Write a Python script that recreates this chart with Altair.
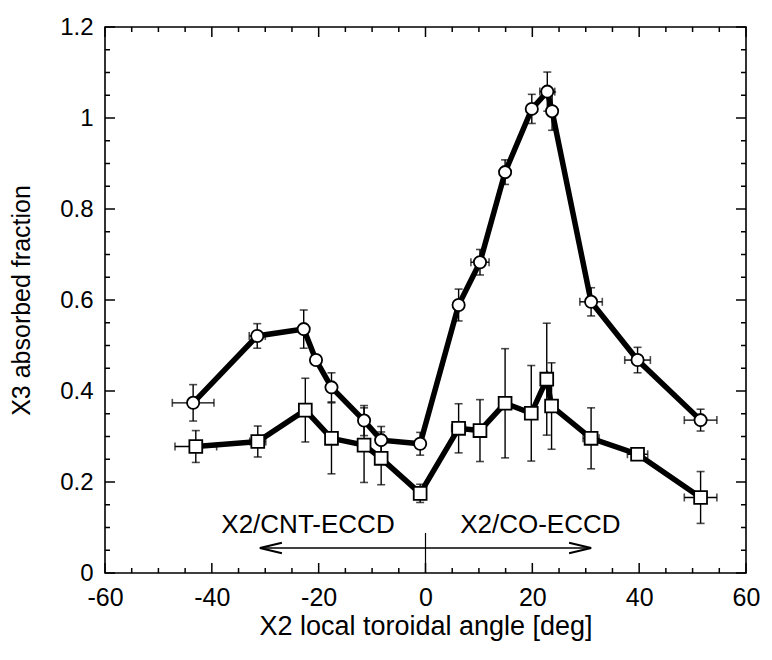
import altair as alt
import pandas as pd

# ---- data ----
circ_x = [-43.5, -31.5, -22.8, -20.5, -17.6, -11.5, -8.3, -1.0, 6.2, 10.2, 14.9, 19.9, 22.8, 23.7, 31.0, 39.7, 51.5]
circ_y = [0.374, 0.521, 0.536, 0.468, 0.408, 0.335, 0.292, 0.284, 0.589, 0.683, 0.881, 1.020, 1.058, 1.015, 0.596, 0.468, 0.336]
circ_xerr = [3.9, 1.5, 0, 0, 0, 0, 0, 0, 0, 1.7, 0, 0, 1.4, 0, 2.1, 2.4, 3.05]
circ_yerr = [0.040, 0.027, 0.042, 0, 0.032, 0.033, 0.030, 0.025, 0.035, 0.028, 0.027, 0.032, 0.043, 0.042, 0.031, 0.028, 0.024]

sq_x = [-43.0, -31.4, -22.5, -17.6, -11.5, -8.3, -1.0, 6.2, 10.2, 14.9, 19.8, 22.7, 23.6, 31.0, 39.7, 51.5]
sq_y = [0.278, 0.289, 0.358, 0.296, 0.281, 0.252, 0.175, 0.318, 0.313, 0.373, 0.351, 0.426, 0.367, 0.296, 0.261, 0.166]
sq_xerr = [3.9, 1.5, 0, 0, 0, 0, 0, 1.3, 0, 0, 0, 0, 0, 1.5, 1.9, 3.05]
sq_yerr = [0.035, 0.034, 0.070, 0.078, 0.082, 0.058, 0.020, 0.054, 0.068, 0.120, 0.105, 0.123, 0.095, 0.067, 0, 0.057]

x_major = [-60, -40, -20, 0, 20, 40, 60]
x_minor = [-55, -50, -45, -35, -30, -25, -15, -10, -5, 5, 10, 15, 25, 30, 35, 45, 50, 55]
y_major = [0, 0.2, 0.4, 0.6, 0.8, 1.0, 1.2]
y_minor = [0.05, 0.1, 0.15, 0.25, 0.3, 0.35, 0.45, 0.5, 0.55, 0.65, 0.7, 0.75,
           0.85, 0.9, 0.95, 1.05, 1.1, 1.15]

ann_text = ["X2/CNT-ECCD", "X2/CO-ECCD"]
ann_x = [-22.0, 21.5]
ann_y = [0.088, 0.088]
arrow_x = [-31.0, 31.0]
arrow_y = 0.055
divider_x = 0.0
divider_top = 0.088

W, H = 641, 546
FONT = "Liberation Sans"

circ = pd.DataFrame({"x": circ_x, "y": circ_y, "xerr": circ_xerr, "yerr": circ_yerr})
sq = pd.DataFrame({"x": sq_x, "y": sq_y, "xerr": sq_xerr, "yerr": sq_yerr})

xscale = alt.Scale(domain=[-60, 60], nice=False, zero=False)
yscale = alt.Scale(domain=[0, 1.2], nice=False, zero=False)
xaxis = alt.Axis(title="X2 local toroidal angle [deg]", values=x_major, domain=False, ticks=False,
                 grid=False, labelPadding=12, titlePadding=3, labelFlush=False,
                 labelExpr="'' + datum.value", titleFontSize=27)
yaxis = alt.Axis(title="X3 absorbed fraction", values=y_major, format="~g", domain=False, ticks=False,
                 grid=False, labelPadding=12, titlePadding=25, labelFlush=False, labelFontSize=24,
                 titleFontSize=25)


def X(f):
    return alt.X(f, type="quantitative", scale=xscale, axis=xaxis)


def Y(f):
    return alt.Y(f, type="quantitative", scale=yscale, axis=yaxis)


layers = []

# tick marks (inside, on all four sides)
def xticks(vals, length):
    d = pd.DataFrame({"x": vals})
    b = alt.Chart(d).mark_rule(color="black", strokeWidth=1.5).encode(
        x=X("x"), y=alt.value(H), y2=alt.value(H - length))
    t = alt.Chart(d).mark_rule(color="black", strokeWidth=1.5).encode(
        x=X("x"), y=alt.value(0), y2=alt.value(length))
    return [b, t]


def yticks(vals, length):
    d = pd.DataFrame({"y": vals})
    l = alt.Chart(d).mark_rule(color="black", strokeWidth=1.5).encode(
        y=Y("y"), x=alt.value(0), x2=alt.value(length))
    r = alt.Chart(d).mark_rule(color="black", strokeWidth=1.5).encode(
        y=Y("y"), x=alt.value(W), x2=alt.value(W - length))
    return [l, r]


layers += xticks(x_major, 10) + xticks(x_minor, 5) + yticks(y_major, 10) + yticks(y_minor, 5)


def errorbars(df):
    base = alt.Chart(df).transform_calculate(
        xlo="datum.x - datum.xerr", xhi="datum.x + datum.xerr",
        ylo="datum.y - datum.yerr", yhi="datum.y + datum.yerr")
    bx = base.transform_filter("datum.xerr > 0")
    by = base.transform_filter("datum.yerr > 0")
    out = [
        bx.mark_rule(color="black", strokeWidth=1.4).encode(x=X("xlo"), x2="xhi", y=Y("y")),
        bx.mark_tick(color="black", orient="vertical", size=8, thickness=1.6).encode(x=X("xlo"), y=Y("y")),
        bx.mark_tick(color="black", orient="vertical", size=8, thickness=1.6).encode(x=X("xhi"), y=Y("y")),
        by.mark_rule(color="black", strokeWidth=1.4).encode(y=Y("ylo"), y2="yhi", x=X("x")),
        by.mark_tick(color="black", orient="horizontal", size=8, thickness=1.6).encode(y=Y("ylo"), x=X("x")),
        by.mark_tick(color="black", orient="horizontal", size=8, thickness=1.6).encode(y=Y("yhi"), x=X("x")),
    ]
    return out


layers += errorbars(circ) + errorbars(sq)

layers.append(alt.Chart(circ).mark_line(color="black", strokeWidth=5.5).encode(x=X("x"), y=Y("y")))
layers.append(alt.Chart(sq).mark_line(color="black", strokeWidth=5.5).encode(x=X("x"), y=Y("y")))

layers.append(alt.Chart(circ).mark_point(shape="circle", filled=True, fill="white", stroke="black",
                                         strokeWidth=1.8, size=150, opacity=1).encode(x=X("x"), y=Y("y")))
layers.append(alt.Chart(sq).mark_point(shape="square", filled=True, fill="white", stroke="black",
                                       strokeWidth=1.8, size=165, opacity=1).encode(x=X("x"), y=Y("y")))

# annotation: arrows and labels
arr = pd.DataFrame({"x1": [arrow_x[0]], "x2": [arrow_x[1]], "y": [arrow_y]})
layers.append(alt.Chart(arr).mark_rule(color="black", strokeWidth=1.6).encode(x=X("x1"), x2="x2", y=Y("y")))
div = pd.DataFrame({"x": [divider_x], "y1": [0.0], "y2": [divider_top]})
layers.append(alt.Chart(div).mark_rule(color="black", strokeWidth=1.2).encode(x=X("x"), y=Y("y1"), y2="y2"))

heads = pd.DataFrame({"x": arrow_x, "y": [arrow_y, arrow_y], "dir": ["left", "right"]})
layers.append(alt.Chart(heads).transform_filter("datum.dir == 'left'").mark_point(
    shape="M 1 -0.24 L 0 0 L 1 0.24", filled=False, stroke="black", strokeWidth=2, size=1936, opacity=1
).encode(x=X("x"), y=Y("y")))
layers.append(alt.Chart(heads).transform_filter("datum.dir == 'right'").mark_point(
    shape="M -1 -0.24 L 0 0 L -1 0.24", filled=False, stroke="black", strokeWidth=2, size=1936, opacity=1
).encode(x=X("x"), y=Y("y")))

ann = pd.DataFrame({"t": ann_text, "x": ann_x, "y": ann_y})
layers.append(alt.Chart(ann).mark_text(font=FONT, fontSize=26, color="black", align="center",
                                       baseline="alphabetic").encode(x=X("x"), y=Y("y"), text="t:N"))

chart = alt.layer(*layers).properties(
    width=W, height=H,
    autosize=alt.AutoSizeParams(type="none"),
    padding={"left": 97, "top": 19, "right": 18, "bottom": 78},
    background="white",
).configure_view(stroke="black", strokeWidth=1.6).configure_axis(
    labelFont=FONT, labelFontSize=25, labelColor="black",
    titleFont=FONT, titleFontSize=26, titleFontWeight="normal", titleColor="black",
)

chart.save("out.html", embed_options={"renderer": "svg", "actions": False})
